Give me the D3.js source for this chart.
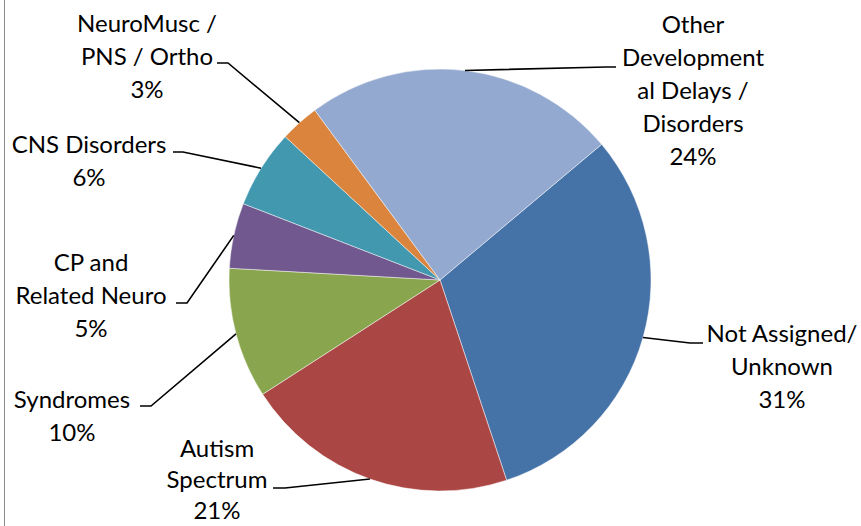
<!DOCTYPE html>
<html>
<head>
<meta charset="utf-8">
<script src="https://cdn.jsdelivr.net/npm/d3@7"></script>
<style>
  html, body { margin: 0; padding: 0; background: #fff; }
  svg { display: block; }
  text { font-family: Lato, "Open Sans", sans-serif; fill: #000; }
</style>
</head>
<body>
<svg id="chart" width="861" height="526"></svg>
<script>
// Referral categories, share of cases (%)
const categories = [
  "Not Assigned/ Unknown",
  "Autism Spectrum",
  "Syndromes",
  "CP and Related Neuro",
  "CNS Disorders",
  "NeuroMusc / PNS / Ortho",
  "Other Developmental Delays / Disorders"
];
const values = [31, 21, 10, 5, 6, 3, 24];
// Wrapped label lines as shown beside each slice
const labelLines = [
  ["Not Assigned/", "Unknown"],
  ["Autism", "Spectrum"],
  ["Syndromes"],
  ["CP and", "Related Neuro"],
  ["CNS Disorders"],
  ["NeuroMusc /", "PNS / Ortho"],
  ["Other", "Development", "al Delays /", "Disorders"]
];
const colors = ["#4572A7", "#AA4643", "#89A54E", "#71588F", "#4198AF", "#DB843D", "#93A9CF"];

// Label placement: text block centre x, first line centre y, line spacing,
// and the short horizontal leader stub (x0 -> x1 at y) next to the text
const labelLayout = [
  { cx: 782, y0: 334, lh: 33, stub: [703, 690, 343] },
  { cx: 217, y0: 449, lh: 31, stub: [273, 285, 488] },
  { cx: 72,  y0: 400, lh: 33, stub: [140, 151, 406] },
  { cx: 91,  y0: 263, lh: 33, stub: [176, 187, 303] },
  { cx: 89,  y0: 145, lh: 33, stub: [173, 183, 152] },
  { cx: 147, y0: 24,  lh: 33, stub: [217, 228, 63] },
  { cx: 693, y0: 25,  lh: 33, stub: [616, 606, 67] }
];

const svg = d3.select("#chart");
const cx = 440, cy = 280, r = 211;

// frame edge on the left
svg.append("line")
  .attr("x1", 4.5).attr("x2", 4.5).attr("y1", 0).attr("y2", 526)
  .attr("stroke", "#8a8a8a").attr("stroke-width", 1);

const start = 50 * Math.PI / 180;
const pie = d3.pie().sort(null).value(d => d).startAngle(start).endAngle(start + 2 * Math.PI);
const arcs = pie(values);
const arc = d3.arc().innerRadius(0).outerRadius(r);
const edgeArc = d3.arc().innerRadius(r).outerRadius(r);

const g = svg.append("g").attr("transform", `translate(${cx},${cy})`);
g.selectAll("path.slice")
  .data(arcs)
  .join("path")
  .attr("class", "slice")
  .attr("d", arc)
  .attr("fill", (d, i) => colors[i])
  .attr("stroke", "#ffffff")
  .attr("stroke-opacity", 0.6)
  .attr("stroke-width", 0.8);

// leader lines
const line = d3.line();
svg.selectAll("path.leader")
  .data(arcs)
  .join("path")
  .attr("class", "leader")
  .attr("fill", "none")
  .attr("stroke", "#000")
  .attr("stroke-width", 1.6)
  .attr("d", (d, i) => {
    const [ex, ey] = edgeArc.centroid(d);
    const s = labelLayout[i].stub;
    return line([[s[0], s[2]], [s[1], s[2]], [cx + ex, cy + ey]]);
  });

// labels with percentage as last line
const fmt = d3.format(".0%");
const total = d3.sum(values);
labelLines.forEach((lines, i) => {
  const L = labelLayout[i];
  const all = lines.concat([fmt(values[i] / total)]);
  const t = svg.append("text")
    .attr("text-anchor", "middle")
    .attr("font-size", 24);
  all.forEach((s, k) => {
    t.append("tspan")
      .attr("x", L.cx)
      .attr("y", L.y0 + k * L.lh)
      .attr("dy", "0.35em")
      .text(s);
  });
});
</script>
</body>
</html>
